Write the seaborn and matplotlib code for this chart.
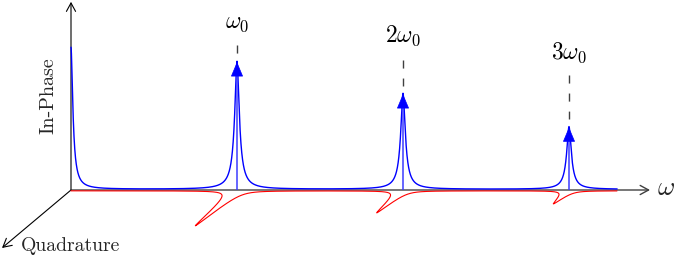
import numpy as np
import matplotlib
matplotlib.use("Agg")
import matplotlib.pyplot as plt
import matplotlib.transforms as mtransforms
import seaborn as sns
import pandas as pd

# ---------------- data ----------------
harmonics = [1, 2, 3]                                   # multiples of omega_0
harmonic_labels = [r"$\omega_0$", r"$2\omega_0$", r"$3\omega_0$"]
inphase_peaks = [1.00, 0.75, 0.49]                      # arrow heights (in-phase units)
quad_peaks = [0.273, 0.172, 0.102]                      # quadrature peak depths
dc_peak = 1.11                                          # in-phase value at omega = 0
dc_width = 0.0135
inphase_width = 0.0172
quad_width = 0.02
shape_exp = 1.8
curve_end = 3.29                                        # last omega of the drawn curves
label_heights = [1.31, 1.205, 1.075]                    # label centres
dash_tops = [1.133, 1.016, 0.898]                       # top of dashed guide lines
axis_ends = {"omega": 3.488, "inphase": 1.47, "quad": (-0.4157, -0.453)}

# ---------------- layout ----------------
W, H, DPI = 685, 268, 100
PX_X, PX_Y = 166.0, 128.0          # pixels per unit
ORIGIN = (71.0, 190.0)

sns.set_style("white")
plt.rcParams["mathtext.fontset"] = "cm"
plt.rcParams["lines.scale_dashes"] = False

fig = plt.figure(figsize=(W / DPI, H / DPI), dpi=DPI)
ax = fig.add_axes([0, 0, 1, 1])
ax.set_xlim(-ORIGIN[0] / PX_X, (W - ORIGIN[0]) / PX_X)
ax.set_ylim(-(H - ORIGIN[1]) / PX_Y, ORIGIN[1] / PX_Y)
ax.axis("off")


def peak_shape(w, c, a, g):
    return a / (1.0 + np.abs((w - c) / g) ** shape_exp)


w = np.concatenate([np.linspace(0, curve_end, 8000), np.array(harmonics, float)])
w = np.unique(w)

inphase = peak_shape(w, 0.0, dc_peak, dc_width)
quad = np.zeros_like(w)
for h, a, q in zip(harmonics, inphase_peaks, quad_peaks):
    inphase += peak_shape(w, h, a, inphase_width)
    quad += peak_shape(w, h, q, quad_width)

# oblique projection of the quadrature axis
qdx, qdy = axis_ends["quad"]
quad_x = w + quad * qdx / abs(qdy)
quad_y = -quad

# ---------------- axes arrows ----------------
arrow_kw = dict(arrowstyle="->,head_length=0.55,head_width=0.3", mutation_scale=11,
                shrinkA=0, shrinkB=0)
ax.annotate("", xy=(0, axis_ends["inphase"]), xytext=(0, 0),
            arrowprops=dict(color="black", lw=0.8, **arrow_kw), zorder=1)
ax.annotate("", xy=(axis_ends["omega"], 0), xytext=(0, 0),
            arrowprops=dict(color="#404040", lw=1.0, **arrow_kw), zorder=1)
ax.annotate("", xy=(qdx, qdy), xytext=(0, 0),
            arrowprops=dict(color="black", lw=0.8, **arrow_kw), zorder=1)

# ---------------- curves ----------------
off_up = mtransforms.ScaledTranslation(0, 0.6 / DPI, fig.dpi_scale_trans)
off_dn = mtransforms.ScaledTranslation(0, -0.8 / DPI, fig.dpi_scale_trans)

df_q = pd.DataFrame({"x": quad_x, "y": quad_y})
sns.lineplot(data=df_q, x="x", y="y", ax=ax, color="red", lw=0.8,
             sort=False, estimator=None, zorder=2)
ax.lines[-1].set_transform(ax.transData + off_dn)

df_i = pd.DataFrame({"x": w, "y": inphase})
sns.lineplot(data=df_i, x="x", y="y", ax=ax, color="blue", lw=1.0,
             sort=False, estimator=None, zorder=3)
ax.lines[-1].set_transform(ax.transData + off_up)

# ---------------- delta arrows, dashed guides, labels ----------------
head_len = 13.0 / PX_Y
gap = 8.0 / PX_Y
for h, a, lab, ly, dt in zip(harmonics, inphase_peaks, harmonic_labels,
                             label_heights, dash_tops):
    ax.plot([h, h], [0, a - head_len * 0.6], color="#3c3cff", lw=1.1, zorder=4,
            solid_capstyle="butt")
    ax.annotate("", xy=(h, a), xytext=(h, a - head_len),
                arrowprops=dict(arrowstyle="-|>,head_length=0.95,head_width=0.4",
                                mutation_scale=10, color="blue", lw=0.5,
                                shrinkA=0, shrinkB=0), zorder=5)
    ax.plot([h, h], [dt, a + gap], color="#404040", lw=1.0,
            linestyle=(0, (5.8, 7.2)), zorder=4)
    ax.text(h, ly, lab, ha="center", va="center", fontsize=17, color="black")

ax.text((666 - ORIGIN[0]) / PX_X, (ORIGIN[1] - 188) / PX_Y, r"$\omega$",
        ha="center", va="center", fontsize=19)
ax.text((71 - ORIGIN[0]) / PX_X, (ORIGIN[1] - 246) / PX_Y, "Quadrature",
        ha="center", va="center", fontsize=14.2, family="cmr10")
ax.text((48 - ORIGIN[0]) / PX_X, (ORIGIN[1] - 96) / PX_Y, "In-Phase",
        ha="center", va="center", fontsize=14.5, family="cmr10", rotation=90)

fig.savefig("out.png", dpi=DPI)
